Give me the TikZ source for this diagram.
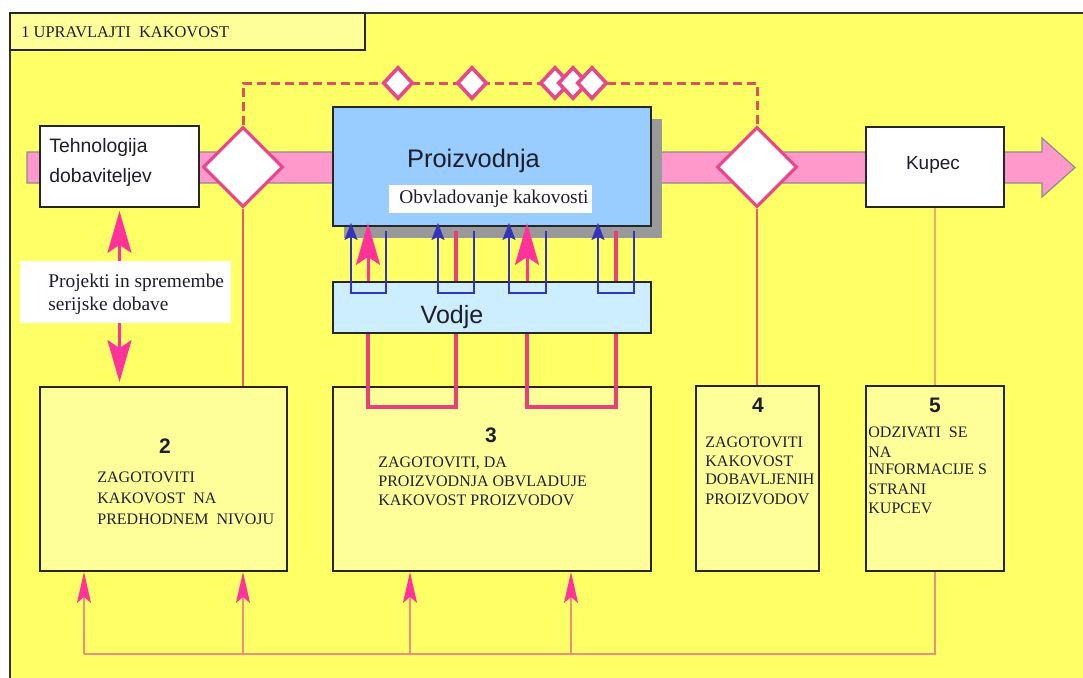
\documentclass[tikz,border=0pt]{standalone}
\usepackage{fontspec}
\setmainfont{Liberation Serif}
\setsansfont{Liberation Sans}
\usetikzlibrary{shapes.geometric,arrows.meta,calc}
\definecolor{bgy}{HTML}{FFFF66}
\definecolor{boxy}{HTML}{FFFF99}
\definecolor{bandc}{HTML}{FF99CC}
\definecolor{dmag}{HTML}{E8488A}
\definecolor{dashc}{HTML}{DD5060}
\definecolor{hotp}{HTML}{FF3399}
\definecolor{upink}{HTML}{E8407A}
\definecolor{thinp}{HTML}{E85A6A}
\definecolor{orl}{HTML}{F5A56E}
\definecolor{botl}{HTML}{F08C80}
\definecolor{blu}{HTML}{3333BB}
\definecolor{prodc}{HTML}{99CCFF}
\definecolor{vodc}{HTML}{CCEEFF}
\definecolor{shad}{HTML}{999999}
\definecolor{txt}{HTML}{1E1E2A}
\tikzset{
  rbox/.style={draw=black!85, line width=0.9pt, inner sep=0pt, rectangle},
  ybox/.style={rbox, fill=boxy},
  wbox/.style={rbox, fill=white},
  bigdia/.style={diamond, draw=dmag, fill=white, line width=1.6pt, inner sep=0pt, minimum width=40pt, minimum height=40pt},
  smdia/.style={diamond, draw=dmag, fill=white, line width=1.8pt, inner sep=0pt, minimum width=15pt, minimum height=16pt},
  capt/.style={font=\fontsize{8}{9.75}\selectfont, text=txt, inner sep=0pt, anchor=base west},
  numt/.style={font=\sffamily\bfseries\fontsize{10.5}{12}\selectfont, text=txt, inner sep=0pt, anchor=base},
  sanst/.style={font=\sffamily\fontsize{9.7}{12}\selectfont, text=txt, inner sep=0pt},
  bigsans/.style={font=\sffamily\fontsize{12.7}{15}\selectfont, text=txt, inner sep=0pt, anchor=base},
  sert/.style={font=\fontsize{9.7}{12}\selectfont, text=txt, inner sep=0pt},
  pinkarr/.style={hotp, line width=1.5pt, -{Stealth[length=21pt, width=12pt, inset=4pt]}},
  bluarr/.style={blu, line width=0.8pt, {Stealth[length=8.5pt, width=6.5pt, inset=1.5pt]}-},
  pinkline/.style={upink, line width=2pt},
  botarr/.style={botl, line width=0.7pt, -{Stealth[length=15.5pt, width=7pt, inset=3pt, color=hotp]}}
}
\begin{document}
\begin{tikzpicture}[x=0.5pt, y=-0.5pt]
\useasboundingbox (0,0) rectangle (1083,677);
\clip (0,0) rectangle (1083,677);
\fill[white] (0,0) rectangle (1083,677);
% frame
\draw[fill=bgy, draw=black!80, line width=0.9pt] (10,13) rectangle (1100,700);
% title
\node[ybox, minimum width=177.5pt, minimum height=18.5pt] (title) at (187.5,31.5) {};
\node[capt, font=\fontsize{8.2}{10}\selectfont] (titletxt) at (21,37) {1 UPRAVLAJTI\ \ KAKOVOST};
% band arrow
\draw[fill=bandc, draw=black!45, line width=0.6pt] (27,152) -- (1042,152) -- (1042,138) -- (1075,167.5) -- (1042,197) -- (1042,183) -- (27,183) -- cycle;
% big diamonds
\node[bigdia] (d1) at (243,167) {};
\node[bigdia] (d2) at (757,167) {};
% dashed feedback line
\coordinate (dtop) at (0,83);
\draw[dashc, line width=1.5pt, dash pattern=on 4.5pt off 2.5pt] (d1.north) -- (d1.north |- dtop) -- (d2.north |- dtop) -- (d2.north);
\node[smdia] (s1) at (398,83) {};
\node[smdia] (s2) at (472,83) {};
\node[smdia] (s3) at (555,83) {};
\node[smdia] (s4) at (573,83) {};
\node[smdia] (s5) at (592,83) {};
% technology and customer
\node[wbox, minimum width=79.5pt, minimum height=40.5pt] (tech) at (119.5,166.5) {};
\node[sanst, anchor=base west] (tech1) at (49,152) {Tehnologija};
\node[sanst, anchor=base west] (tech2) at (49,182) {dobaviteljev};
\node[wbox, minimum width=69pt, minimum height=40pt] (kupec) at (935,167) {};
\node[sanst, anchor=base, font=\sffamily\fontsize{9.5}{12}\selectfont] (kupectxt) at (933,169) {Kupec};
% production
\fill[shad] (344,119) rectangle (662,238);
\node[rbox, fill=prodc, minimum width=159pt, minimum height=59.5pt] (prod) at (492,166.5) {};
\node[bigsans] (prodtxt) at (473.5,167) {Proizvodnja};
\node[fill=white, inner sep=0pt, minimum width=101.5pt, minimum height=14pt] (obv) at (490.5,199) {};
\node[sert, anchor=base] (obvtxt) at (494,203) {Obvladovanje kakovosti};
% leaders
\node[rbox, fill=vodc, minimum width=159pt, minimum height=25.5pt] (vodje) at (492,307.5) {};
\node[bigsans, font=\sffamily\fontsize{12.5}{15}\selectfont] (vodjetxt) at (452,323) {Vodje};
% blue U brackets
\coordinate (u1a) at (351,293); \coordinate (u1b) at (386,293);
\coordinate (u2a) at (438,293); \coordinate (u2b) at (474,293);
\coordinate (u3a) at (509,293); \coordinate (u3b) at (546,293);
\coordinate (u4a) at (598,293); \coordinate (u4b) at (634,293);
\foreach \a/\b in {u1a/u1b,u2a/u2b,u3a/u3b,u4a/u4b}{
  \draw[bluarr, shorten <=-2pt] (prod.south -| \a) -- (\a) -- (\b) -- ([yshift=-2pt]prod.south -| \b);
}
% pink lines between Vodje and Proizvodnja
\coordinate (p1) at (368,407); \coordinate (p2) at (456,407);
\coordinate (p3) at (527,407); \coordinate (p4) at (616,407);
\draw[pinkarr, shorten >=-2pt] (vodje.north -| p1) -- (prod.south -| p1);
\draw[pinkarr, shorten >=-2pt] (vodje.north -| p3) -- (prod.south -| p3);
\draw[pinkline] (vodje.north -| p2) -- ([yshift=-2pt]prod.south -| p2);
\draw[pinkline] (vodje.north -| p4) -- ([yshift=-2pt]prod.south -| p4);
% lower boxes
\node[ybox, minimum width=123.5pt, minimum height=92pt] (box2) at (163.5,479) {};
\node[ybox, minimum width=159pt, minimum height=92pt] (box3) at (492,479) {};
\node[ybox, minimum width=61.5pt, minimum height=92.5pt] (box4) at (757.5,478.5) {};
\node[ybox, minimum width=69pt, minimum height=92.5pt] (box5) at (935,478.5) {};
% pink U under Vodje
\draw[pinkline] (vodje.south -| p1) -- (p1) -- (p2) -- (vodje.south -| p2);
\draw[pinkline] (vodje.south -| p3) -- (p3) -- (p4) -- (vodje.south -| p4);
% verticals from diamonds and customer
\draw[thinp, line width=0.8pt] (d1.south) -- (d1.south |- box2.north);
\draw[thinp, line width=0.8pt] (d2.south) -- (d2.south |- box4.north);
\draw[orl, line width=1pt] (kupec.south) -- (kupec.south |- box5.north);
% double arrow and label
\draw[hotp, line width=1.5pt, {Stealth[length=21pt, width=12pt, inset=4pt]}-{Stealth[length=21pt, width=12pt, inset=4pt]}, shorten <=1.5pt, shorten >=2pt] (tech.south) -- (tech.south |- box2.north);
\node[fill=white, inner sep=0pt, minimum width=105.5pt, minimum height=31pt] (proj) at (125.5,292) {};
\node[sert, anchor=base west] (proj1) at (48,287) {Projekti in spremembe};
\node[sert, anchor=base west] (proj2) at (48,310) {serijske dobave};
% bottom feedback network
\coordinate (b1) at (84,654); \coordinate (b2) at (243,654);
\coordinate (b3) at (410,654); \coordinate (b4) at (571,654);
\draw[botl, line width=0.8pt] (box5.south) -- (box5.south |- b1) -- (b1);
\draw[botarr] (b1) -- (b1 |- box2.south);
\draw[botarr] (b2) -- (b2 |- box2.south);
\draw[botarr] (b3) -- (b3 |- box3.south);
\draw[botarr] (b4) -- (b4 |- box3.south);
% texts in lower boxes
\node[numt] (n2) at (165,453) {2};
\node[capt] (t2a) at (97,482) {ZAGOTOVITI};
\node[capt] (t2b) at (97,503) {KAKOVOST\ \ NA};
\node[capt] (t2c) at (97,524) {PREDHODNEM\ \ NIVOJU};
\node[numt] (n3) at (491,442) {3};
\node[capt] (t3a) at (378,467) {ZAGOTOVITI, DA};
\node[capt] (t3b) at (378,486) {PROIZVODNJA OBVLADUJE};
\node[capt] (t3c) at (378,505) {KAKOVOST PROIZVODOV};
\node[numt] (n4) at (758,412) {4};
\node[capt] (t4a) at (705,447) {ZAGOTOVITI};
\node[capt] (t4b) at (705,466) {KAKOVOST};
\node[capt] (t4c) at (705,484) {DOBAVLJENIH};
\node[capt] (t4d) at (705,504) {PROIZVODOV};
\node[numt] (n5) at (935,412) {5};
\node[capt] (t5a) at (868,437) {ODZIVATI\ \ SE};
\node[capt] (t5b) at (868,457) {NA};
\node[capt] (t5c) at (868,474) {INFORMACIJE S};
\node[capt] (t5d) at (868,494) {STRANI};
\node[capt] (t5e) at (868,513) {KUPCEV};
\end{tikzpicture}
\end{document}
